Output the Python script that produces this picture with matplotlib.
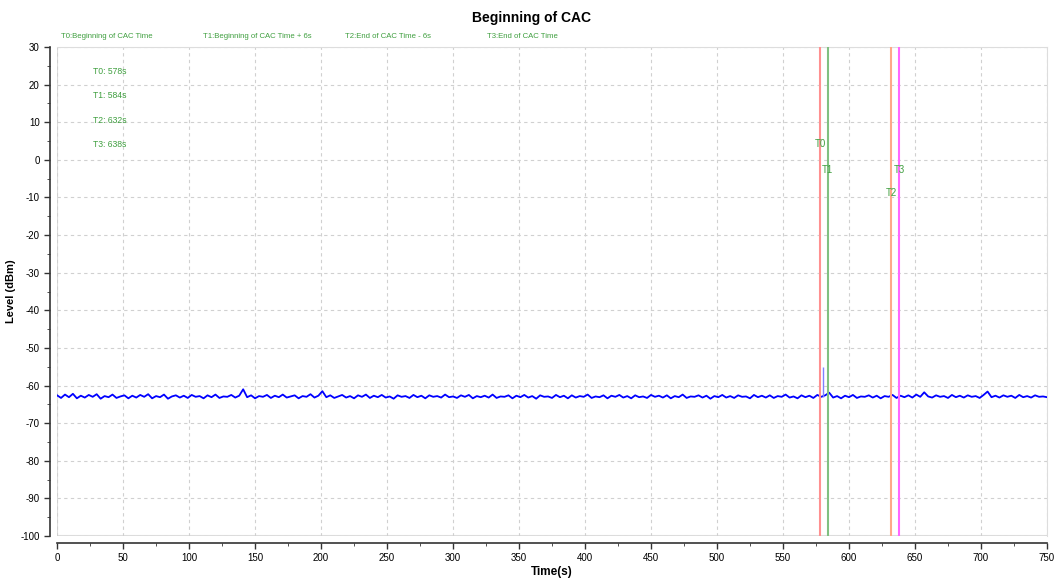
import matplotlib
matplotlib.use("Agg")
import matplotlib.pyplot as plt
import numpy as np
from matplotlib.ticker import MultipleLocator

plt.rcParams['font.family'] = ['Liberation Sans', 'DejaVu Sans']
plt.rcParams['axes.unicode_minus'] = False

# Noise floor trace, one reading every 3 s from 0 to 750 s
sample_step = 3
level_dbm = [
    -62.6, -63.3, -62.4, -63.1, -62.2, -63.4, -62.7, -63.2, -62.5, -63.0,
    -62.3, -63.5, -62.8, -63.1, -62.4, -63.3, -62.9, -62.6, -63.4, -62.7,
    -63.2, -62.5, -63.0, -62.3, -63.4, -62.8, -63.1, -62.4, -63.5, -62.9,
    -62.6, -63.2, -62.7, -63.3, -62.5, -63.0, -62.8, -63.4, -62.6, -63.1,
    -62.4, -63.3, -62.9, -63.0, -62.5, -63.2, -62.7, -61.0, -63.1, -62.6,
    -63.4, -62.8, -63.0, -62.5, -63.3, -62.7, -63.1, -62.4, -63.2, -62.9,
    -62.6, -63.4, -62.8, -63.0, -62.3, -63.2, -62.7, -61.5, -63.1, -62.6,
    -63.3, -62.9, -62.5, -63.2, -62.8, -63.4, -62.6, -63.0, -62.4, -63.3,
    -62.7, -63.1, -62.5, -63.2, -62.9, -63.5, -62.6, -63.0, -62.8, -63.3,
    -62.5, -63.1, -62.7, -63.4, -62.6, -63.0, -62.8, -63.2, -62.4, -63.1,
    -62.9, -63.3, -62.6, -63.0, -62.5, -63.4, -62.8, -63.1, -62.7, -63.2,
    -62.4, -63.3, -62.9, -63.0, -62.6, -63.4, -62.7, -63.1, -62.5, -63.2,
    -62.8, -63.5, -62.6, -63.0, -62.9, -63.3, -62.5, -63.1, -62.7, -63.4,
    -62.6, -63.2, -62.8, -63.0, -62.4, -63.3, -62.9, -63.1, -62.6, -63.4,
    -62.7, -63.0, -62.5, -63.2, -62.8, -63.4, -62.6, -63.1, -62.9, -63.3,
    -62.5, -63.0, -62.7, -63.2, -62.6, -63.4, -62.8, -63.1, -62.4, -63.3,
    -62.9, -63.0, -62.6, -63.2, -62.7, -63.5, -62.8, -63.1, -62.5, -63.2,
    -62.8, -63.3, -62.6, -63.0, -62.9, -63.4, -62.5, -63.1, -62.7, -63.2,
    -62.6, -63.3, -62.8, -63.0, -62.4, -63.2, -62.9, -63.4, -62.6, -63.1,
    -62.7, -63.3, -62.5, -63.0, -62.6, -61.9, -63.2, -62.8, -63.4, -62.7,
    -63.1, -62.5, -63.3, -62.9, -63.0, -62.6, -63.2, -62.7, -63.4, -62.8,
    -63.0, -62.5, -63.3, -62.7, -63.1, -62.6, -63.2, -62.4, -63.0, -61.8,
    -62.9, -63.2, -62.6, -63.0, -62.8, -63.3, -62.5, -63.1, -62.7, -63.2,
    -62.6, -63.0, -62.8, -63.3, -62.5, -61.6, -63.1, -62.7, -63.2, -62.6,
    -63.0, -62.7, -63.3, -62.5, -63.1, -62.8, -63.2, -62.6, -63.0, -62.9,
    -63.1,
]
time_s = np.arange(len(level_dbm)) * sample_step

# Short burst near T0
burst_time = 580.5
burst_level = -55.0

# Markers
marker_names = ["T0", "T1", "T2", "T3"]
marker_times = [578, 584, 632, 638]
marker_desc = ["Beginning of CAC Time", "Beginning of CAC Time + 6s",
               "End of CAC Time - 6s", "End of CAC Time"]
marker_colors = ["#ff9090", "#80c080", "#ffa888", "#ff66ff"]
marker_label_y = [4.2, -2.7, -8.8, -2.7]

txt_green = "#3f9f3f"

fig = plt.figure(figsize=(10.57, 5.81), dpi=100)
ax = fig.add_axes([0.054, 0.0775, 0.9365, 0.8415])

ax.plot(time_s, level_dbm, color="#0000ff", lw=1.3, zorder=3)
ax.vlines(burst_time, -63, burst_level, color="#8080ff", lw=1, zorder=3)

for name, t, c, ly in zip(marker_names, marker_times, marker_colors, marker_label_y):
    ax.axvline(t, color=c, lw=1.5, zorder=4)
    ax.text(t, ly, name, color=txt_green, fontsize=7, ha="center", va="center", zorder=5)

# Marker value list inside the plot
for i, (name, t) in enumerate(zip(marker_names, marker_times)):
    ax.text(27, 23.6 - i * 6.5, f"{name}: {t}s", color=txt_green, fontsize=6.2,
            ha="left", va="center")

# Legend line above the plot
for i, (name, d) in enumerate(zip(marker_names, marker_desc)):
    fig.text((61 + i * 142) / 1057, 1 - 37 / 581, f"{name}:{d}", color=txt_green,
             fontsize=5.6, ha="left", va="center")

fig.text(531 / 1057, 1 - 18 / 581, "Beginning of CAC", fontsize=10,
         fontweight="bold", ha="center", va="center")

ax.set_xlim(0, 750)
ax.set_ylim(-100, 30)
ax.xaxis.set_major_locator(MultipleLocator(50))
ax.xaxis.set_minor_locator(MultipleLocator(25))
ax.yaxis.set_major_locator(MultipleLocator(10))
ax.yaxis.set_minor_locator(MultipleLocator(5))
ax.tick_params(labelsize=7, length=4, width=1, color="#333333")
ax.tick_params(which="minor", length=2.5, color="#333333")
ax.grid(True, which="major", ls=(0, (3, 3)), color="#d0d0d0", lw=0.8)

for s in ["top", "right"]:
    ax.spines[s].set_color("#dddddd")
for s in ["left", "bottom"]:
    ax.spines[s].set_position(("outward", 5))
    ax.spines[s].set_color("#333333")
    ax.spines[s].set_linewidth(1.2)

# light frame edges on bottom/left of the plot area
ax.axhline(-100, color="#dddddd", lw=1.5, zorder=1)
ax.axvline(0, color="#dddddd", lw=1.5, zorder=1)

ax.set_xlabel("Time(s)", fontsize=8.5, fontweight="bold", labelpad=2)
ax.set_ylabel("Level (dBm)", fontsize=8, fontweight="bold")
ax.yaxis.set_label_coords(-0.042, 0.5)

fig.savefig("out.png", dpi=100)
